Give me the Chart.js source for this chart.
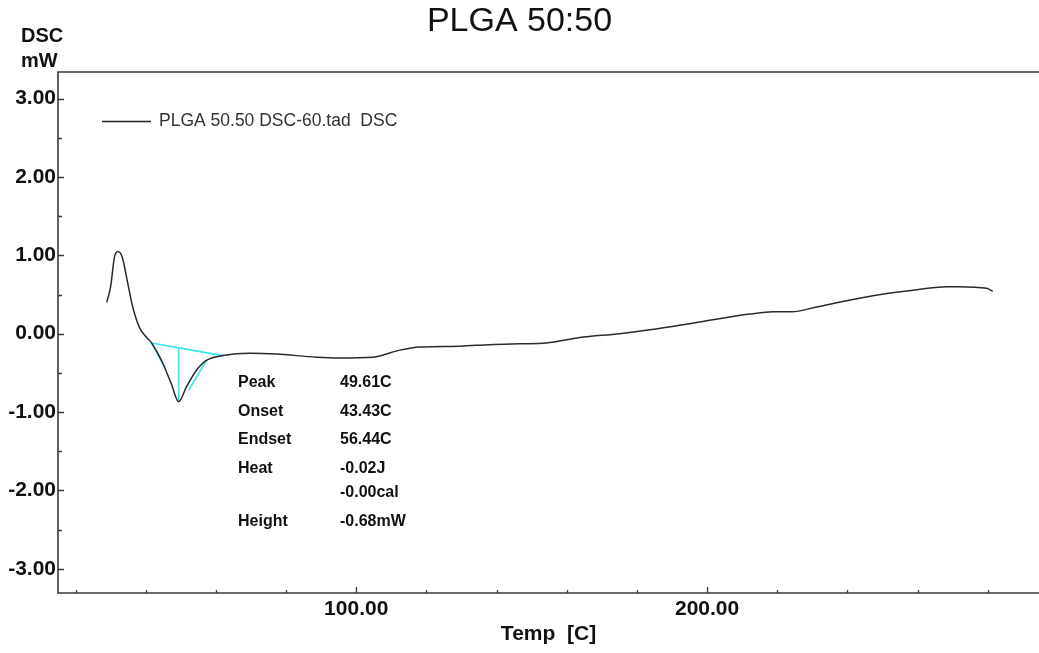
<!DOCTYPE html>
<html>
<head>
<meta charset="utf-8">
<script src="https://cdn.jsdelivr.net/npm/chart.js@4.4.1/dist/chart.umd.min.js"></script>
<style>
  html, body { margin: 0; padding: 0; background: #fff; }
  #wrap { width: 1039px; height: 653px; }
</style>
</head>
<body>
<div id="wrap"><canvas id="dscChart" width="1039" height="653"></canvas></div>
<script>
const temperaturas = [28.9, 30.0, 31.1, 32.1, 33.3, 34.9, 36.3, 38.2, 40.1, 41.7, 43.3, 44.9, 47.3, 49.4, 51.6, 54.4, 57.3, 62.0, 69.6, 77.2, 88.6, 95.3, 104.8, 112.4, 118.1, 129.5, 138.0, 146.6, 154.2, 163.7, 175.1, 183.7, 197.9, 212.2, 218.8, 224.1, 231.2, 240.8, 252.2, 259.7, 268.3, 271.6, 279.7, 281.4];
const dscValores = [0.40, 0.60, 0.98, 1.05, 0.98, 0.64, 0.34, 0.08, -0.04, -0.12, -0.24, -0.38, -0.64, -0.87, -0.68, -0.47, -0.34, -0.28, -0.25, -0.26, -0.30, -0.31, -0.30, -0.21, -0.17, -0.16, -0.14, -0.13, -0.12, -0.05, 0.00, 0.05, 0.15, 0.25, 0.28, 0.28, 0.34, 0.43, 0.52, 0.56, 0.60, 0.60, 0.58, 0.54];

// lineas de analisis del pico (cian)
const lineaBase = [[41.7, -0.12], [62.0, -0.28]];
const lineaPico = [[49.4, -0.18], [49.4, -0.87]];
const tangenteIzq = [[41.7, -0.12], [45.4, -0.43]];
const tangenteDer = [[52.3, -0.72], [57.3, -0.34]];

const xTicks = [20, 40, 60, 80, 100, 120, 140, 160, 180, 200, 220, 240, 260, 280];
const xEtiquetas = [100, 200];
const yTicks = [-3, -2.5, -2, -1.5, -1, -0.5, 0, 0.5, 1, 1.5, 2, 2.5, 3];
const yEtiquetas = [-3, -2, -1, 0, 1, 2, 3];

const titulo = 'PLGA 50:50';
const leyenda = 'PLGA 50.50 DSC-60.tad  DSC';
const nombresAnalisis = ['Peak', 'Onset', 'Endset', 'Heat', '', 'Height'];
const valoresAnalisis = ['49.61C', '43.43C', '56.44C', '-0.02J', '-0.00cal', '-0.68mW'];

const FUENTE = '"Liberation Sans", Arial, sans-serif';
const CIAN = '#35e4ee';

function puntos(xs, ys) {
    return xs.map((x, i) => ({ x: x, y: ys[i] }));
}
function par(arr) {
    return arr.map(p => ({ x: p[0], y: p[1] }));
}
function lineaCian(arr) {
    return {
        data: par(arr),
        borderColor: CIAN,
        borderWidth: 1.6,
        pointRadius: 0,
        tension: 0
    };
}

const decoracion = {
    id: 'decoracion',
    afterDraw(chart) {
        const ctx = chart.ctx;
        const a = chart.chartArea;
        const xs = chart.scales.x, ys = chart.scales.y;
        ctx.save();

        // ejes y marco superior
        ctx.strokeStyle = '#3a3a3a';
        ctx.lineWidth = 1.6;
        ctx.beginPath();
        ctx.moveTo(a.right, a.top);
        ctx.lineTo(a.left, a.top);
        ctx.lineTo(a.left, a.bottom);
        ctx.lineTo(a.right, a.bottom);
        ctx.stroke();

        // marcas hacia dentro
        ctx.lineWidth = 1.3;
        ctx.beginPath();
        xTicks.forEach(v => {
            const px = Math.round(xs.getPixelForValue(v)) + 0.5;
            const len = xEtiquetas.includes(v) ? 6 : 3;
            ctx.moveTo(px, a.bottom);
            ctx.lineTo(px, a.bottom - len);
        });
        yTicks.forEach(v => {
            const py = Math.round(ys.getPixelForValue(v)) + 0.5;
            const len = yEtiquetas.includes(v) ? 6 : 4;
            ctx.moveTo(a.left, py);
            ctx.lineTo(a.left + len, py);
        });
        ctx.stroke();

        // titulo y unidades
        ctx.fillStyle = '#111';
        ctx.textAlign = 'center';
        ctx.textBaseline = 'middle';
        ctx.font = '34px ' + FUENTE;
        ctx.fillText(titulo, chart.width / 2, 22);
        ctx.textAlign = 'left';
        ctx.textBaseline = 'alphabetic';
        ctx.font = 'bold 20px ' + FUENTE;
        ctx.fillText('DSC', 21, 42);
        ctx.fillText('mW', 21, 67);

        // leyenda
        const ly = Math.round(ys.getPixelForValue(2.72)) + 0.5;
        ctx.strokeStyle = '#222';
        ctx.lineWidth = 1.4;
        ctx.beginPath();
        ctx.moveTo(a.left + 44, ly);
        ctx.lineTo(a.left + 93, ly);
        ctx.stroke();
        ctx.fillStyle = '#333';
        ctx.font = '17.5px ' + FUENTE;
        ctx.textBaseline = 'middle';
        ctx.fillText(leyenda, a.left + 101, ly);

        // resultados del analisis
        const ax = xs.getPixelForValue(66.3);
        const ay = ys.getPixelForValue(-0.63);
        const saltos = [0, 28.3, 56.3, 85.3, 109.6, 139];
        ctx.fillStyle = '#111';
        ctx.font = 'bold 16px ' + FUENTE;
        nombresAnalisis.forEach((n, i) => {
            if (n) ctx.fillText(n, ax, ay + saltos[i]);
            ctx.fillText(valoresAnalisis[i], ax + 102, ay + saltos[i]);
        });
        ctx.restore();
    }
};

const ctx = document.getElementById('dscChart').getContext('2d');
new Chart(ctx, {
    type: 'line',
    data: {
        datasets: [
            {
                data: puntos(temperaturas, dscValores),
                borderColor: '#2a2a2a',
                borderWidth: 1.5,
                pointRadius: 0,
                cubicInterpolationMode: 'monotone'
            },
            lineaCian(lineaBase),
            lineaCian(lineaPico),
            lineaCian(tangenteIzq),
            lineaCian(tangenteDer)
        ]
    },
    options: {
        responsive: false,
        animation: false,
        layout: { padding: { top: 72, right: 0, left: 0, bottom: 0 } },
        plugins: {
            legend: { display: false },
            tooltip: { enabled: false },
            title: { display: false }
        },
        scales: {
            x: {
                type: 'linear',
                min: 15,
                max: 294.6,
                grid: { display: false, drawTicks: false },
                border: { display: false },
                afterBuildTicks: s => { s.ticks = xTicks.map(v => ({ value: v })); },
                afterFit: s => { s.height = 60; },
                ticks: {
                    padding: 4,
                    maxRotation: 0,
                    autoSkip: false,
                    color: '#111',
                    font: { family: FUENTE, size: 21, weight: 'bold' },
                    callback: v => xEtiquetas.includes(v) ? v.toFixed(2) : ''
                },
                title: {
                    display: true,
                    text: 'Temp  [C]',
                    color: '#111',
                    font: { family: FUENTE, size: 21, weight: 'bold' },
                    padding: { top: 0, bottom: 6 }
                }
            },
            y: {
                min: -3.31,
                max: 3.34,
                grid: { display: false, drawTicks: false },
                border: { display: false },
                afterBuildTicks: s => { s.ticks = yTicks.map(v => ({ value: v })); },
                afterFit: s => { s.width = 58; },
                ticks: {
                    padding: 2,
                    autoSkip: false,
                    color: '#111',
                    font: { family: FUENTE, size: 21, weight: 'bold' },
                    callback: v => yEtiquetas.includes(v) ? v.toFixed(2) : ''
                }
            }
        }
    },
    plugins: [decoracion]
});
</script>
</body>
</html>
